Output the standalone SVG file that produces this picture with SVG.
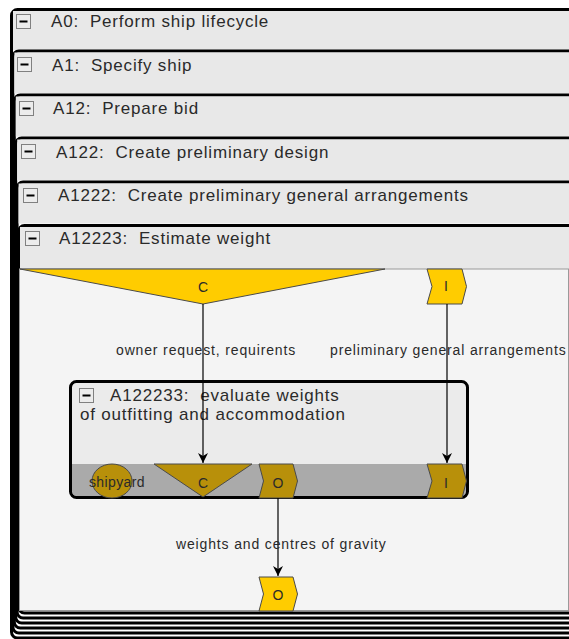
<svg xmlns="http://www.w3.org/2000/svg" width="569" height="639" viewBox="0 0 569 639">
<defs>
<style>
text{white-space:pre}
.frame{fill:#ffffff;stroke:#000;stroke-width:3}
.hdr{fill:#e8e8e8}
.ttl{font-family:"Liberation Sans",Arial,sans-serif;font-size:17px;letter-spacing:0.8px;fill:#2a2a2a}
.lbl{font-family:"Liberation Sans",Arial,sans-serif;font-size:14px;letter-spacing:0.85px;fill:#2a2a2a}
.tagt{font-family:"Liberation Sans",Arial,sans-serif;font-size:14px;fill:#2a2a2a;text-anchor:middle}
.mbox{fill:#ececec;stroke:#808080;stroke-width:1}
.minus{fill:#000}
.yel{fill:#ffcc00;stroke:#4a4a4a;stroke-width:1}
.gold{fill:#b8900a;stroke:#4a4a4a;stroke-width:1}
.conn{stroke:#000;stroke-width:1.2;fill:none}
</style>
<marker id="arr" viewBox="0 0 10 10" refX="10" refY="5" markerWidth="10" markerHeight="10" markerUnits="userSpaceOnUse" orient="auto">
<path d="M0,0 L10,5 L0,10 L3,5 Z" fill="#000"/>
</marker>
</defs>
<rect x="0" y="0" width="569" height="639" fill="#ffffff"/>

<g id="A0">
<rect class="frame" x="11.5" y="9.5" width="700" height="628.5" rx="6"/>
<rect class="hdr" x="13" y="11" width="700" height="39"/>
<rect class="mbox" x="16.5" y="14.5" width="14" height="14"/>
<rect class="minus" x="19.5" y="20.5" width="8" height="2"/>
<text class="ttl" x="51" y="27">A0:  Perform ship lifecycle</text>
</g>

<g id="A1">
<rect class="frame" x="12.9" y="51" width="700" height="582" rx="6"/>
<rect class="hdr" x="14.4" y="52.5" width="700" height="41"/>
<rect class="mbox" x="17.5" y="57.5" width="14" height="14"/>
<rect class="minus" x="20.5" y="63.5" width="8" height="2"/>
<text class="ttl" x="52" y="71">A1:  Specify ship</text>
</g>

<g id="A12">
<rect class="frame" x="14.3" y="95" width="700" height="533" rx="6"/>
<rect class="hdr" x="15.8" y="96.5" width="700" height="40"/>
<rect class="mbox" x="19.5" y="101.5" width="14" height="14"/>
<rect class="minus" x="22.5" y="107.5" width="8" height="2"/>
<text class="ttl" x="53" y="114">A12:  Prepare bid</text>
</g>

<g id="A122">
<rect class="frame" x="15.7" y="138" width="700" height="485" rx="6"/>
<rect class="hdr" x="17.2" y="139.5" width="700" height="41"/>
<rect class="mbox" x="21.5" y="144.5" width="14" height="14"/>
<rect class="minus" x="24.5" y="150.5" width="8" height="2"/>
<text class="ttl" x="56" y="158">A122:  Create preliminary design</text>
</g>

<g id="A1222">
<rect class="frame" x="17.1" y="182" width="700" height="436" rx="6"/>
<rect class="hdr" x="18.6" y="183.5" width="700" height="40"/>
<rect class="mbox" x="23.5" y="188.5" width="14" height="14"/>
<rect class="minus" x="26.5" y="194.5" width="8" height="2"/>
<text class="ttl" x="58" y="201">A1222:  Create preliminary general arrangements</text>
</g>

<g id="A12223">
<rect class="frame" x="18.5" y="225.5" width="700" height="387.5" rx="6"/>
<rect class="hdr" x="20" y="227" width="700" height="42"/>
<rect x="19.5" y="269" width="549" height="341.5" fill="#f4f4f4" stroke="#9a9a9a" stroke-width="1"/>
<rect class="mbox" x="25.5" y="231.5" width="14" height="14"/>
<rect class="minus" x="28.5" y="237.5" width="8" height="2"/>
<text class="ttl" x="59" y="244">A12223:  Estimate weight</text>
</g>

<g id="tag-C-top">
<polygon class="yel" points="20,269 385,269 203,304"/>
<text class="tagt" x="203" y="292">C</text>
</g>

<g id="tag-I-top">
<path class="yel" d="M427,269 L462,269 L466.5,286.5 L462,304 L427,304 L432,286.5 Z"/>
<text class="tagt" x="446" y="291">I</text>
</g>

<g id="A122233">
<rect x="70.5" y="381.5" width="397" height="116" rx="6" fill="#ebebeb" stroke="none"/>
<path d="M72,464 H466 V491 Q466,496 461,496 H77 Q72,496 72,491 Z" fill="#aaaaaa"/>
<rect x="70.5" y="381.5" width="397" height="116" rx="6" fill="none" stroke="#000" stroke-width="3"/>
<rect class="mbox" x="79.5" y="388.5" width="14" height="14"/>
<rect class="minus" x="82.5" y="394.5" width="8" height="2"/>
<text class="ttl" x="110" y="401">A122233:  evaluate weights</text>
<text class="ttl" x="80" y="420">of outfitting and accommodation</text>
<ellipse class="gold" cx="112" cy="481" rx="20" ry="17"/>
<text class="tagt" x="117" y="487" style="letter-spacing:0.4px">shipyard</text>
<polygon class="gold" points="154,464 252,464 203,497"/>
<text class="tagt" x="203" y="488">C</text>
<path class="gold" d="M259,464 L293,464 L297.5,481 L293,498 L259,498 L263.5,481 Z"/>
<text class="tagt" x="278" y="488">O</text>
<path class="gold" d="M427,464 L462,464 L466.5,481 L462,498 L427,498 L432,481 Z"/>
<text class="tagt" x="446" y="488">I</text>
</g>

<g id="tag-O-bottom">
<path class="yel" d="M259,577 L293,577 L297.5,594 L293,611 L259,611 L263.5,594 Z"/>
<text class="tagt" x="278" y="600">O</text>
</g>

<g id="connectors">
<line class="conn" x1="203" y1="304" x2="203" y2="463" marker-end="url(#arr)"/>
<line class="conn" x1="447" y1="304" x2="447" y2="463" marker-end="url(#arr)"/>
<line class="conn" x1="278" y1="498" x2="278" y2="576" marker-end="url(#arr)"/>
<text class="lbl" x="116" y="355">owner request, requirents</text>
<text class="lbl" x="330" y="355">preliminary general arrangements</text>
<text class="lbl" x="176" y="549">weights and centres of gravity</text>
</g>
</svg>
